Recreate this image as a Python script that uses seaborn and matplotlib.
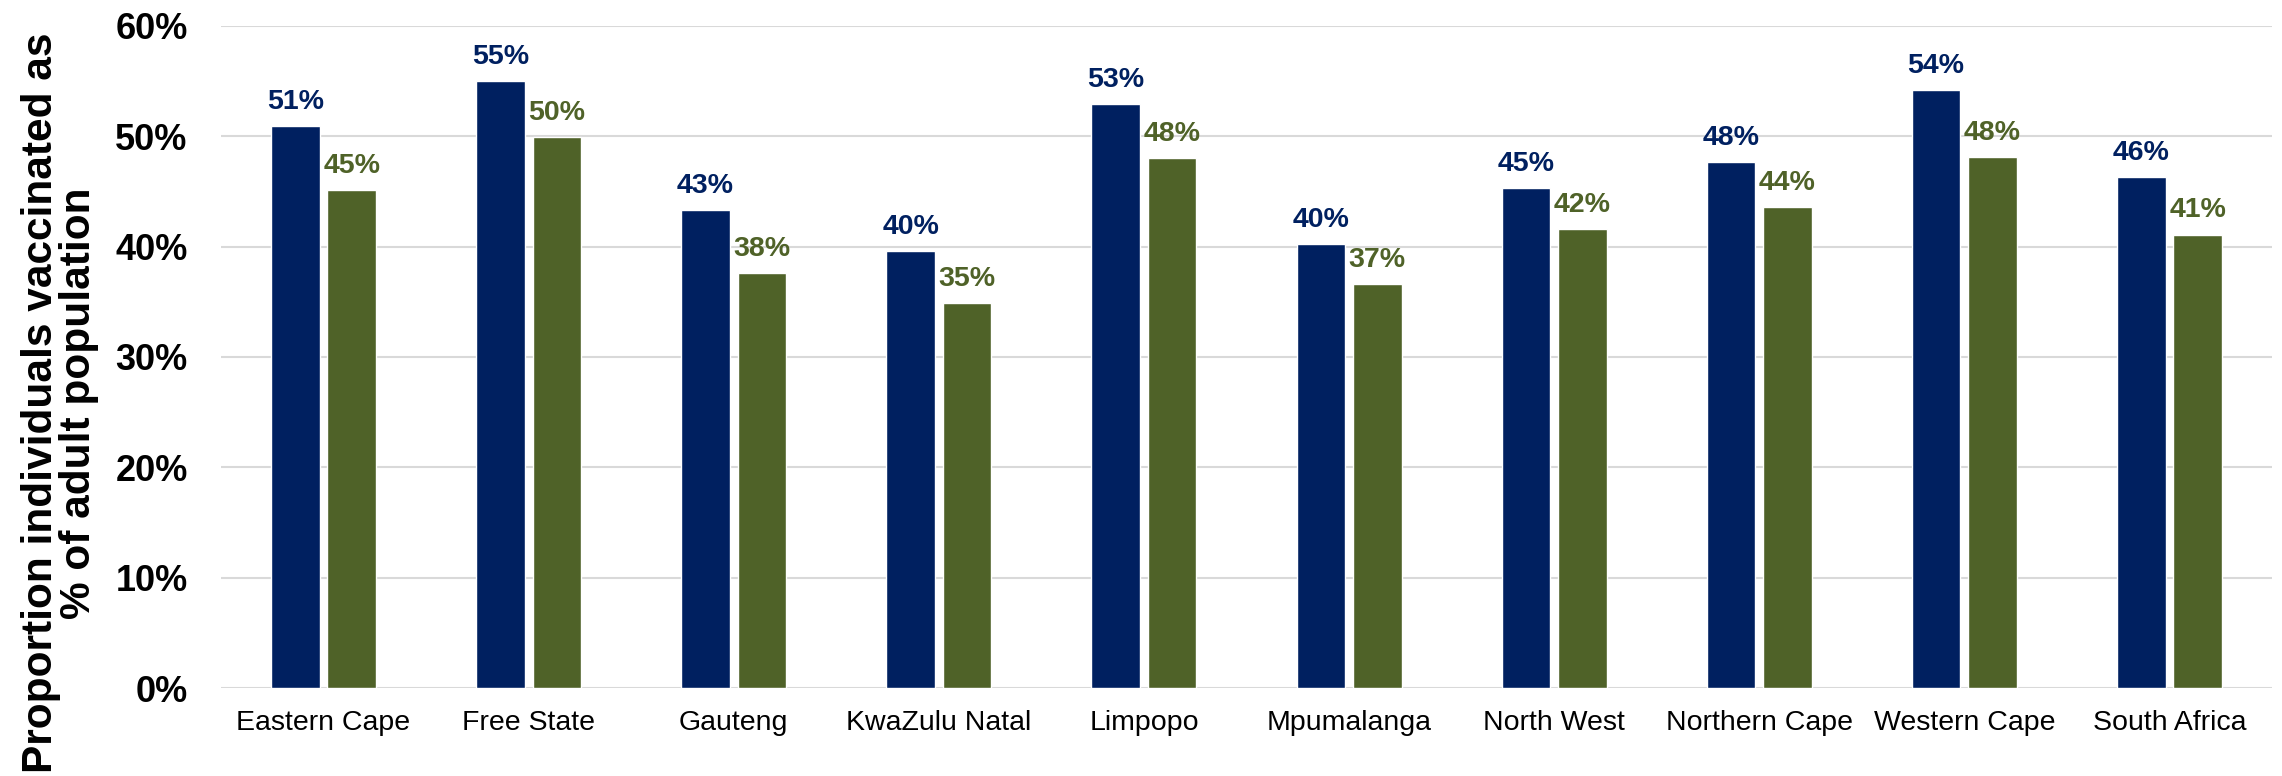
import pandas as pd
import matplotlib.pyplot as plt
import seaborn as sns
from matplotlib.ticker import PercentFormatter, MultipleLocator

provinces = ['Eastern Cape', 'Free State', 'Gauteng', 'KwaZulu Natal', 'Limpopo',
             'Mpumalanga', 'North West', 'Northern Cape', 'Western Cape', 'South Africa']
first_dose = [0.509, 0.550, 0.433, 0.396, 0.529, 0.402, 0.453, 0.477, 0.542, 0.463]
fully_vax = [0.451, 0.499, 0.376, 0.349, 0.480, 0.366, 0.416, 0.436, 0.481, 0.411]
series = ['At least one dose', 'Fully vaccinated']
colors = ['#002060', '#4F6228']

df = pd.DataFrame({
    'province': provinces * 2,
    'share': first_dose + fully_vax,
    'series': [series[0]] * len(provinces) + [series[1]] * len(provinces),
})

sns.set_style('white')
plt.rcParams['font.family'] = ['Liberation Sans', 'DejaVu Sans']
plt.rcParams['text.color'] = 'black'
plt.rcParams['xtick.color'] = 'black'
plt.rcParams['ytick.color'] = 'black'

fig, ax = plt.subplots(figsize=(22.82, 7.76), dpi=100)
fig.subplots_adjust(left=221 / 2282, right=2272 / 2282, bottom=1 - 688 / 776, top=1 - 26 / 776)

sns.barplot(data=df, x='province', y='share', hue='series', palette=colors,
            saturation=1, width=0.55, gap=0.14, edgecolor='white', linewidth=1,
            legend=False, ax=ax)

# value labels above bars
for i, cont in enumerate(ax.containers):
    ax.bar_label(cont, fmt='{:.0%}', padding=8, fontsize=20.5,
                 fontweight='bold', color=colors[i])

ax.set_ylim(0, 0.6)
ax.yaxis.set_major_locator(MultipleLocator(0.1))
ax.yaxis.set_major_formatter(PercentFormatter(1, decimals=0))
ax.yaxis.grid(True, color='#D9D9D9', linewidth=1.5)
ax.set_axisbelow(True)
sns.despine(ax=ax, left=True, bottom=True)

ax.tick_params(axis='y', labelsize=26, pad=24, length=0, labelcolor='black')
ax.tick_params(axis='x', labelsize=20.5, pad=16, length=0, labelcolor='black')
plt.setp(ax.get_yticklabels(), fontweight='bold')
ax.set_xlabel('')
ax.set_ylabel('')

fig.text(60 / 2282, 1 - 403 / 776, 'Proportion individuals vaccinated as\n% of adult population',
         rotation=90, ha='center', va='center', fontsize=30.5, fontweight='bold',
         linespacing=0.95, color='black')

fig.savefig('out.png', dpi=100)
